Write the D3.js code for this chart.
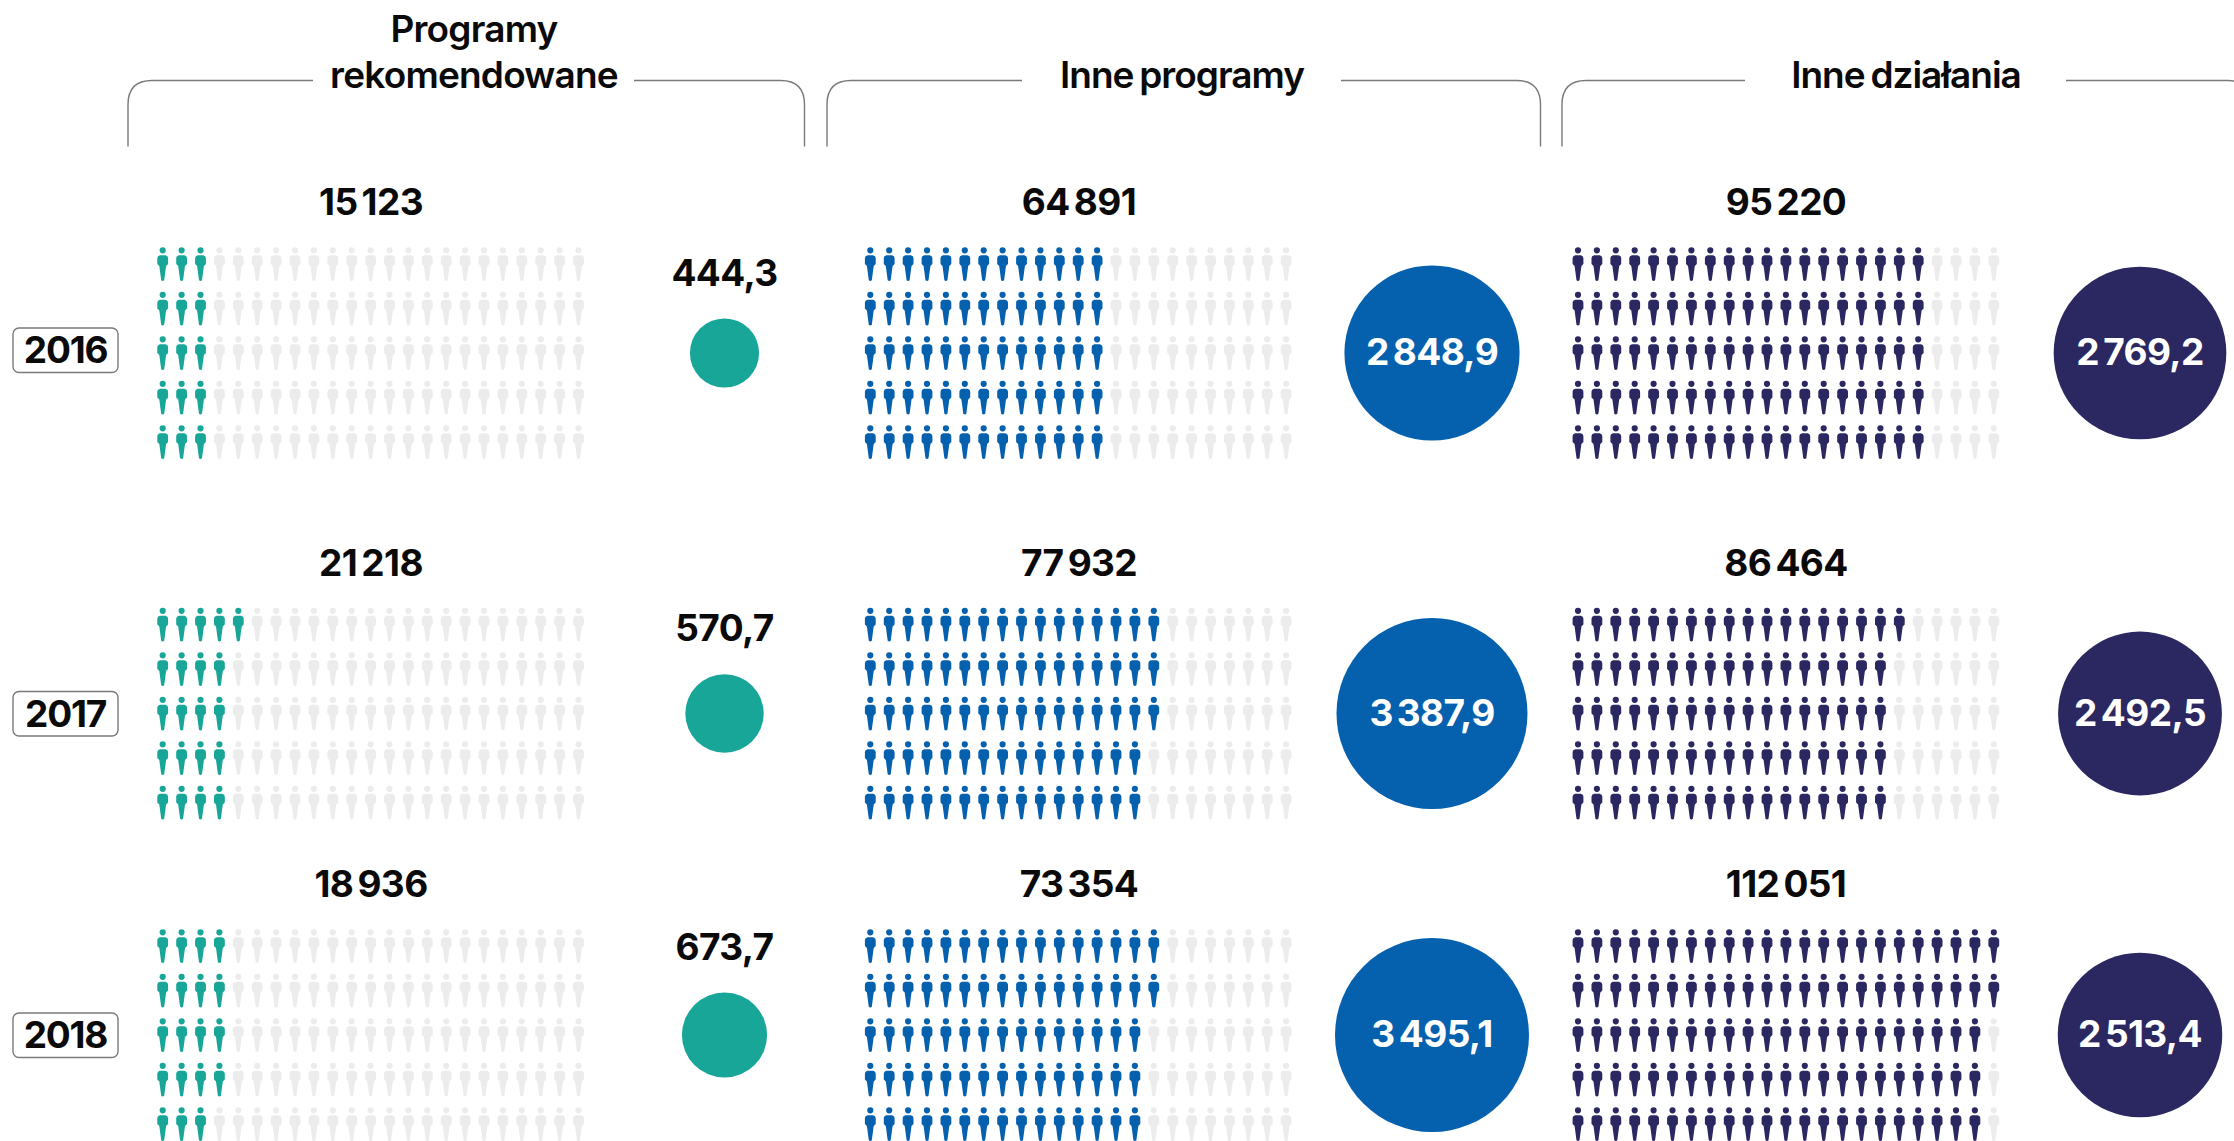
<!DOCTYPE html>
<html><head><meta charset="utf-8">
<script src="https://cdn.jsdelivr.net/npm/d3@7/dist/d3.min.js"></script>
<style>
html,body{margin:0;padding:0;background:#fff;overflow:hidden}
svg{display:block}
text{font-family:"Inter","Liberation Sans",sans-serif;font-weight:700;fill:#0a0a0a;text-anchor:middle}
</style></head><body><svg id="c" width="2234" height="1141"></svg>
<script>
// ---- data ----
const years = ["2016","2017","2018"];
const groupNames = [["Programy","rekomendowane"],["Inne programy"],["Inne działania"]];
const peopleLabels = [["15 123","21 218","18 936"],["64 891","77 932","73 354"],["95 220","86 464","112 051"]];
const iconCounts = [[15,21,19],[65,78,77],[95,86,112]];
const amounts = [[444.3,570.7,673.7],[2848.9,3387.9,3495.1],[2769.2,2492.5,2513.4]];
const amountLabels = [["444,3","570,7","673,7"],["2 848,9","3 387,9","3 495,1"],["2 769,2","2 492,5","2 513,4"]];
const colors = ["#17a698","#0560ae","#2b2760"];
const emptyColor = "#ececec";
const COLS = 23, ROWS = 5;

// ---- layout ----
const svg = d3.select("#c");
const groupLayout = [
  {first:162.7, label:371,  circle:724.5, left:128,  right:804.5, gapL:313,  gapR:634,  head:474},
  {first:870.3, label:1079, circle:1432,  left:827,  right:1540.5,gapL:1022, gapR:1341, head:1182},
  {first:1578,  label:1786, circle:2140,  left:1562, right:2252, gapL:1745, gapR:2066, head:1906}
];
const yearLayout = [
  {rowTop:247,   peopleBase:215, amountBase:286, circleY:353,   boxY:328},
  {rowTop:607.5, peopleBase:575.5, amountBase:641, circleY:713.5, boxY:691.5},
  {rowTop:929,   peopleBase:897, amountBase:960, circleY:1035,  boxY:1013}
];
const r = d3.scaleSqrt().domain([0,3495.1]).range([0,97]);

function person(){
  const p = d3.path();
  p.arc(0,3.3,3.1,0,2*Math.PI); p.closePath();
  p.moveTo(-2.8,8.2);
  p.lineTo(2.8,8.2);
  p.quadraticCurveTo(5.3,8.6,5.4,11);
  p.lineTo(5.4,17);
  p.lineTo(3.4,19);
  p.lineTo(1.5,33.2);
  p.quadraticCurveTo(0,34.6,-1.5,33.2);
  p.lineTo(-3.4,19);
  p.lineTo(-5.4,17);
  p.lineTo(-5.4,11);
  p.quadraticCurveTo(-5.3,8.6,-2.8,8.2);
  p.closePath();
  return p.toString();
}
const personD = person();

function txt(x,y,s,size,opts={}){
  return svg.append("text").attr("x",x).attr("y",y).text(s)
    .style("font-size",size+"px")
    .style("font-weight",opts.w||700)
    .style("letter-spacing",(opts.ls??-0.6)+"px")
    .style("word-spacing",(opts.ws??-4)+"px")
    .style("fill",opts.fill||"#0a0a0a");
}

// brackets + headers
groupLayout.forEach((g,i)=>{
  const top=80.5,bottom=146.5,cr=24;
  const a=d3.path();
  a.moveTo(g.left,bottom); a.lineTo(g.left,top+cr);
  a.quadraticCurveTo(g.left,top,g.left+cr,top); a.lineTo(g.gapL,top);
  a.moveTo(g.gapR,top); a.lineTo(g.right-cr,top);
  a.quadraticCurveTo(g.right,top,g.right,top+cr); a.lineTo(g.right,bottom);
  svg.append("path").attr("d",a.toString()).attr("fill","none").attr("stroke","#7a7a7a").attr("stroke-width",1.4);
  const names=groupNames[i];
  if(names.length===2){
    txt(g.head,41.5,names[0],37,{ls:-0.8,w:600});
    txt(g.head,88,names[1],37,{ls:-0.8,w:600});
  } else {
    txt(g.head,88,names[0],37,{ls:-1,ws:-2.5,w:600});
  }
});

// year boxes
years.forEach((y,j)=>{
  const l=yearLayout[j];
  svg.append("rect").attr("x",13).attr("y",l.boxY).attr("width",105).attr("height",44.5)
    .attr("rx",6).attr("fill","#fff").attr("stroke","#7a7a7a").attr("stroke-width",1.4);
  txt(65.5,l.boxY+35,y,37,{ls:-1.2});
});

// icons, circles, labels
groupLayout.forEach((g,i)=>{
  const xCol=d3.scaleLinear().domain([0,COLS-1]).range([g.first,g.first+415.8]);
  years.forEach((yr,j)=>{
    const l=yearLayout[j];
    const yRow=d3.scaleLinear().domain([0,ROWS-1]).range([l.rowTop,l.rowTop+178]);
    const n=iconCounts[i][j];
    const cells=[];
    d3.range(ROWS).forEach(row=>{
      const filled=Math.floor(n/ROWS)+(row<n%ROWS?1:0);
      d3.range(COLS).forEach(col=>cells.push({row,col,on:col<filled}));
    });
    svg.append("g").selectAll("path").data(cells).join("path")
      .attr("d",personD)
      .attr("transform",d=>`translate(${xCol(d.col)},${yRow(d.row)})`)
      .attr("fill",d=>d.on?colors[i]:emptyColor);
    txt(g.label,l.peopleBase,peopleLabels[i][j],37);
    svg.append("circle").attr("cx",g.circle).attr("cy",l.circleY).attr("r",r(amounts[i][j])).attr("fill",colors[i]);
    if(i===0) txt(g.circle,l.amountBase,amountLabels[i][j],37);
    else txt(g.circle,l.circleY+12,amountLabels[i][j],37,{fill:"#fff"});
  });
});
</script></body></html>
